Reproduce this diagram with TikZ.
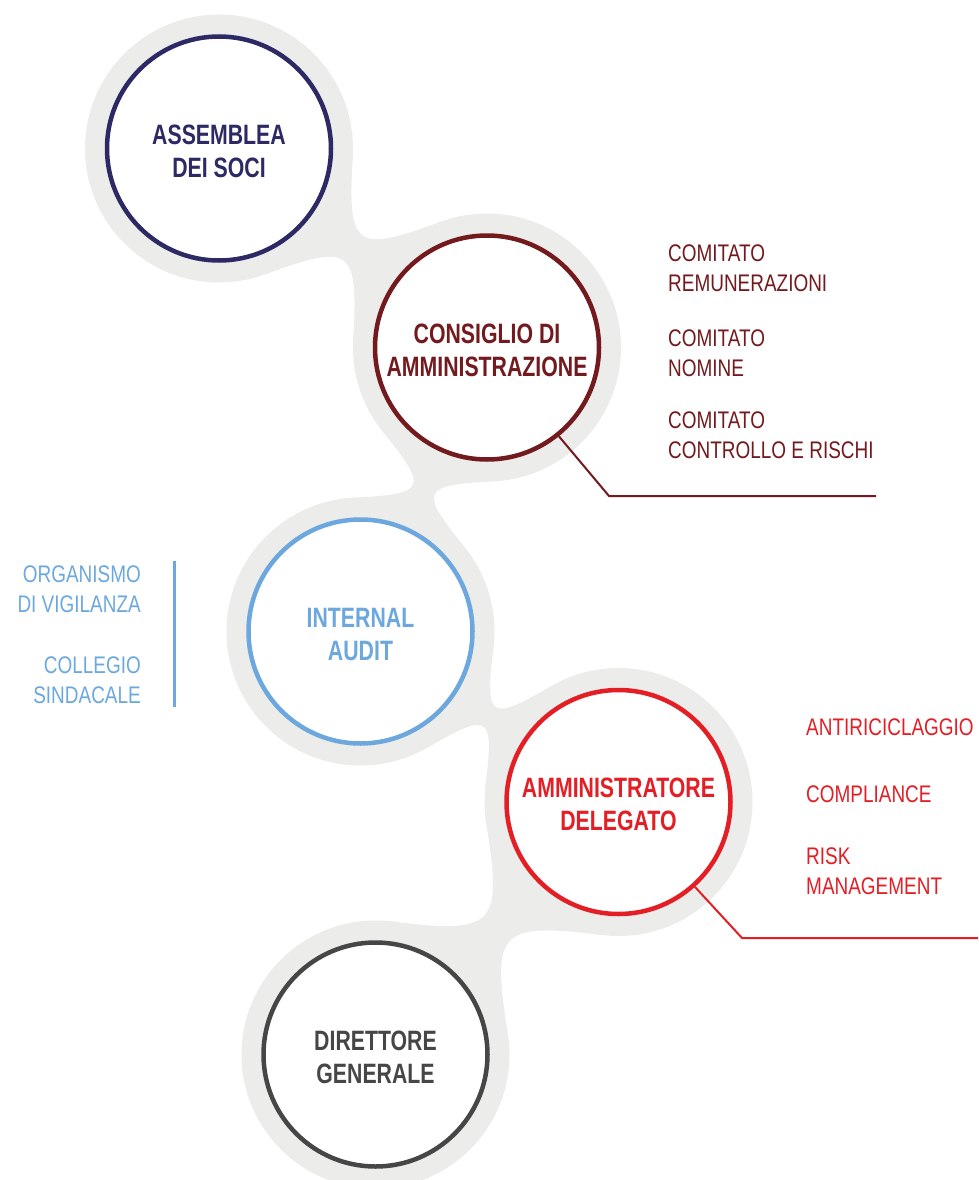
\documentclass[tikz,border=0pt]{standalone}
\usepackage{fontspec}
\usetikzlibrary{calc}
\newfontfamily\labfont[FakeStretch=0.79]{Liberation Sans}
\newfontfamily\headfont[FakeStretch=0.76]{Liberation Sans}
\definecolor{navy}{RGB}{44,41,100}
\definecolor{wine}{RGB}{115,26,30}
\definecolor{sky}{RGB}{108,168,222}
\definecolor{scarlet}{RGB}{227,30,37}
\definecolor{charcoal}{RGB}{70,70,70}
\definecolor{blobgray}{RGB}{236,236,234}
\def\blobR{134}
\def\neckX{-10}
\def\neckK{0.92}
\newcommand\topstrut{\rule{0pt}{24.5pt}}
% neck between two gray discs: two concave curves leaving the discs along their tangents
\newcommand\necklink[2]{%
  \path let \p1=(#1), \p2=(#2),
    \n1={veclen(\x2-\x1,\y2-\y1)/2},
    \n2={atan2(\y2-\y1,\x2-\x1)},
    \n3={acos(\blobR/veclen(\n1,\neckX))+atan2(\neckX,\n1)}
  in ($(#1)+(\n2+\n3:\blobR pt)$) coordinate (nkA)
     ($(#2)+(\n2+180-\n3:\blobR pt)$) coordinate (nkB)
     ($(#2)+(\n2+180+\n3:\blobR pt)$) coordinate (nkC)
     ($(#1)+(\n2-\n3:\blobR pt)$) coordinate (nkD)
     ($($(#1)!.5!(#2)$)+(\n2+90:\neckX pt)$) coordinate (nkU)
     ($($(#1)!.5!(#2)$)+(\n2-90:\neckX pt)$) coordinate (nkL);
  \fill[blob] (#1) -- (nkA) .. controls ($(nkA)!\neckK!(nkU)$) and ($(nkB)!\neckK!(nkU)$) .. (nkB)
     -- (#2) -- (nkC) .. controls ($(nkC)!\neckK!(nkL)$) and ($(nkD)!\neckK!(nkL)$) .. (nkD) -- cycle;}
\begin{document}
\begin{tikzpicture}[x=1pt,y=1pt,
  blob/.style={fill=blobgray},
  orgcircle/.style={circle, draw=#1, text=#1, fill=white, line width=4.5pt, minimum size=224pt,
    inner sep=0pt, align=center, font=\headfont\bfseries\fontsize{28}{33}\selectfont},
  sidelabel/.style={inner sep=0pt, font=\labfont\fontsize{24}{30}\selectfont},
  leader/.style={line width=2pt},
  bar/.style={line width=3pt}]
\useasboundingbox (0,0) rectangle (978,-1180);
\clip (0,0) rectangle (978,-1180);

% centres
\coordinate (c1) at (219,-148.5);
\coordinate (c2) at (487,-347.5);
\coordinate (c3) at (360.5,-631.5);
\coordinate (c4) at (618.5,-802);
\coordinate (c5) at (375.5,-1054.5);

% gray background blob
\foreach \c in {c1,c2,c3,c4,c5}{\fill[blob] (\c) circle[radius=\blobR pt];}
\necklink{c1}{c2}
\necklink{c2}{c3}
\necklink{c3}{c4}
\necklink{c4}{c5}

% circles
\node[orgcircle=navy] (assemblea) at (c1) {\topstrut ASSEMBLEA\\DEI SOCI};
\node[orgcircle=wine] (consiglio) at (c2) {\topstrut CONSIGLIO DI\\AMMINISTRAZIONE};
\node[orgcircle=sky] (audit) at (c3) {\topstrut INTERNAL\\AUDIT};
\node[orgcircle=scarlet] (delegato) at (c4) {\topstrut AMMINISTRATORE\\DELEGATO};
\node[orgcircle=charcoal] (direttore) at (c5) {\topstrut DIRETTORE\\GENERALE};

% committees of the board
\node[sidelabel, wine, anchor=west, align=left] (remun) at (668,-268.7) {COMITATO\\REMUNERAZIONI};
\node[sidelabel, wine, anchor=west, align=left] (nomine) at (668,-353.7) {COMITATO\\NOMINE};
\node[sidelabel, wine, anchor=west, align=left] (rischi) at (668,-435.3) {COMITATO\\CONTROLLO E RISCHI};
\coordinate (k1) at (609,-496);
\coordinate (k1end) at (876,-496);
\draw[leader, wine] (consiglio.-51) -- (k1) -- (k1end);

% control bodies
\node[sidelabel, sky, anchor=east, align=right] (odv) at (141,-589) {ORGANISMO\\DI VIGILANZA};
\node[sidelabel, sky, anchor=east, align=right] (collegio) at (141,-680.5) {COLLEGIO\\SINDACALE};
\coordinate (bartop) at (174,-561);
\coordinate (barbot) at (174,-707);
\draw[bar, sky] (bartop) -- (barbot);

% functions of the CEO
\node[sidelabel, scarlet, anchor=west] (aml) at (806,-727.7) {ANTIRICICLAGGIO};
\node[sidelabel, scarlet, anchor=west] (compl) at (806,-794.7) {COMPLIANCE};
\node[sidelabel, scarlet, anchor=west, align=left] (risk) at (806,-871.2) {RISK\\MANAGEMENT};
\coordinate (k2) at (742,-938);
\coordinate (k2end) at (978,-938);
\draw[leader, scarlet] (delegato.-48) -- (k2) -- (k2end);
\end{tikzpicture}
\end{document}
